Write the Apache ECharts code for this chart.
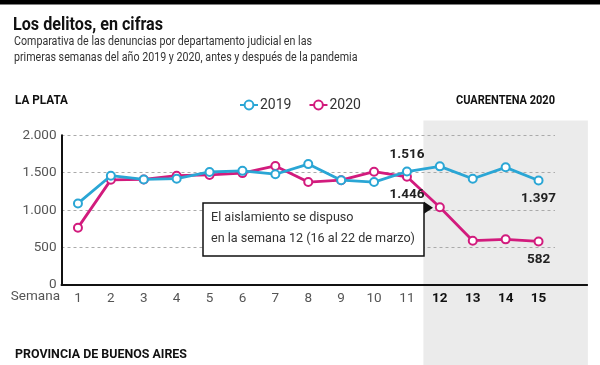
<!DOCTYPE html>
<html><head><meta charset="utf-8">
<script src="https://cdn.jsdelivr.net/npm/echarts@6/dist/echarts.min.js"></script>
<style>html,body{margin:0;padding:0;background:#fff}#c{width:600px;height:365px}</style>
</head><body><div id="c"></div>
<script>
var weeks = ['1','2','3','4','5','6','7','8','9','10','11','12','13','14','15'];
var values2019 = [1090, 1460, 1410, 1420, 1510, 1525, 1480, 1615, 1400, 1375, 1516, 1585, 1420, 1572, 1397];
var values2020 = [766, 1405, 1410, 1460, 1470, 1495, 1590, 1375, 1400, 1514, 1446, 1038, 592, 610, 582];
var yTicks = [0, 500, 1000, 1500, 2000];
var labeled2019 = {10: 'top', 14: 'bottom'};
var labeled2020 = {10: 'bottom', 14: 'bottom'};
var quarantineStart = 11; // index of week 12

var FONT = 'Roboto, "Noto Sans", sans-serif';
var BLUE = '#2aa6d5', PINK = '#d21b7d';

function fmt(v){ return String(v).replace(/\B(?=(\d{3})+(?!\d))/g, '.'); }

var mctx = document.createElement('canvas').getContext('2d');
function fitScale(text, font, width){
  mctx.font = font;
  return Math.min(1, width / mctx.measureText(text).width);
}
function fittedText(text, font, x, y, width, fill){
  var s = fitScale(text, font, width);
  return {type: 'text', x: x, y: y, scaleX: s, scaleY: 1,
    style: {text: text, font: font, fill: fill, textVerticalAlign: 'middle'}};
}

function buildData(vals, labeled){
  return vals.map(function(v, i){
    if (labeled[i] !== undefined) {
      return {value: v, label: {show: true, position: labeled[i], distance: labeled[i] === 'top' ? 5 : 6,
        formatter: fmt(v), fontFamily: FONT, fontWeight: 'bold', fontSize: 13.5, color: '#222'}};
    }
    return v;
  });
}

var chart = echarts.init(document.getElementById('c'), null, {renderer: 'canvas'});
var option = {
  animation: false,
  textStyle: {fontFamily: FONT},
  grid: {left: 61.5, right: 45, top: 135.3, bottom: 80, containLabel: false},
  legend: {
    left: 234, top: 93, itemGap: 17, itemWidth: 18, itemHeight: 11,
    textStyle: {fontFamily: FONT, fontSize: 14, color: '#333', padding: [0, 0, 0, -3]},
    data: ['2019', '2020']
  },
  xAxis: {
    type: 'category', data: weeks, boundaryGap: true,
    axisLine: {lineStyle: {color: '#111', width: 2}},
    axisTick: {inside: true, length: 4, lineStyle: {color: '#111', width: 1.5}},
    axisLabel: {
      interval: 0, margin: 7, fontSize: 13.5, color: '#555', fontFamily: FONT,
      formatter: function(v, i){ return i >= quarantineStart ? '{b|' + v + '}' : v; },
      rich: {b: {fontWeight: 'bold', color: '#111', fontSize: 13.5, fontFamily: FONT}}
    }
  },
  yAxis: {
    type: 'value', min: 0, max: 2000, interval: 500,
    axisLine: {show: true, lineStyle: {color: '#111', width: 2}},
    axisTick: {show: false},
    axisLabel: {margin: 5, fontSize: 13.5, color: '#555', fontFamily: FONT,
      formatter: function(v){ return yTicks.indexOf(v) >= 0 ? fmt(v) : ''; }},
    splitLine: {lineStyle: {color: '#aaa', type: [3, 3], width: 1}}
  },
  series: [
    {name: '2020', type: 'line', data: buildData(values2020, labeled2020),
     symbol: 'emptyCircle', symbolSize: 8, color: PINK,
     lineStyle: {width: 2.8, color: PINK}, itemStyle: {color: PINK, borderWidth: 2}, z: 3},
    {name: '2019', type: 'line', data: buildData(values2019, labeled2019),
     symbol: 'emptyCircle', symbolSize: 8, color: BLUE,
     lineStyle: {width: 2.8, color: BLUE}, itemStyle: {color: BLUE, borderWidth: 2}, z: 4}
  ]
};
chart.setOption(option);

var left = chart.convertToPixel({xAxisIndex: 0}, weeks[quarantineStart - 1]);
var next = chart.convertToPixel({xAxisIndex: 0}, weeks[quarantineStart]);
var bw = next - left;
var shadeX = (left + next) / 2;
var lastX = chart.convertToPixel({xAxisIndex: 0}, weeks[weeks.length - 1]);
var axisEndX = lastX + bw * 1.5;
var baseY = chart.convertToPixel({yAxisIndex: 0}, 0);
var point12 = chart.convertToPixel({seriesIndex: 0}, [weeks[quarantineStart], values2020[quarantineStart]]);

var subFont = '13px ' + FONT;
var subScale = fitScale('Comparativa de las denuncias por departamento judicial en las', subFont, 298);
var noteFont = '13.5px ' + FONT;
var noteScale = fitScale('en la semana 12 (16 al 22 de marzo)', noteFont, 204);

chart.setOption({
  graphic: [
    {type: 'rect', shape: {x: 0, y: 0, width: 600, height: 4.5}, style: {fill: '#000'}, z: -10},
    {type: 'rect', shape: {x: shadeX, y: 120.5, width: axisEndX - shadeX, height: 250}, style: {fill: '#ebebeb'}, z: -10, silent: true},
    {type: 'line', shape: {x1: lastX + bw / 2, y1: baseY, x2: axisEndX, y2: baseY}, style: {stroke: '#111', lineWidth: 2}, z: 10},
    fittedText('Los delitos, en cifras', 'bold 19px ' + FONT, 13, 25, 150, '#111'),
    {type: 'text', x: 14, y: 42, scaleX: subScale, style: {text: 'Comparativa de las denuncias por departamento judicial en las', font: subFont, fill: '#333', textVerticalAlign: 'middle'}},
    {type: 'text', x: 14, y: 58, scaleX: subScale, style: {text: 'primeras semanas del año 2019 y 2020, antes y después de la pandemia', font: subFont, fill: '#333', textVerticalAlign: 'middle'}},
    fittedText('LA PLATA', 'bold 12.5px ' + FONT, 15, 101, 53, '#111'),
    fittedText('CUARENTENA 2020', 'bold 12.5px ' + FONT, 456, 101, 99, '#111'),
    fittedText('PROVINCIA DE BUENOS AIRES', 'bold 12.5px ' + FONT, 15, 355, 172, '#111'),
    {type: 'text', x: 60, y: baseY + 12, style: {text: 'Semana', font: '13.5px ' + FONT, fill: '#555', textAlign: 'right', textVerticalAlign: 'middle'}},
    {type: 'rect', shape: {x: 203, y: 203, width: 221, height: 53}, style: {fill: '#fff', stroke: '#111', lineWidth: 1.5}, z: 20},
    {type: 'text', x: 211, y: 218, z: 21, scaleX: noteScale, style: {text: 'El aislamiento se dispuso', font: noteFont, fill: '#333', textVerticalAlign: 'middle'}},
    {type: 'text', x: 211, y: 239, z: 21, scaleX: noteScale, style: {text: 'en la semana 12 (16 al 22 de marzo)', font: noteFont, fill: '#333', textVerticalAlign: 'middle'}},
    {type: 'polygon', z: 21, shape: {points: [[424, point12[1] - 5.5], [433, point12[1] + 0.5], [424, point12[1] + 6.5]]}, style: {fill: '#111'}}
  ]
});
</script></body></html>
